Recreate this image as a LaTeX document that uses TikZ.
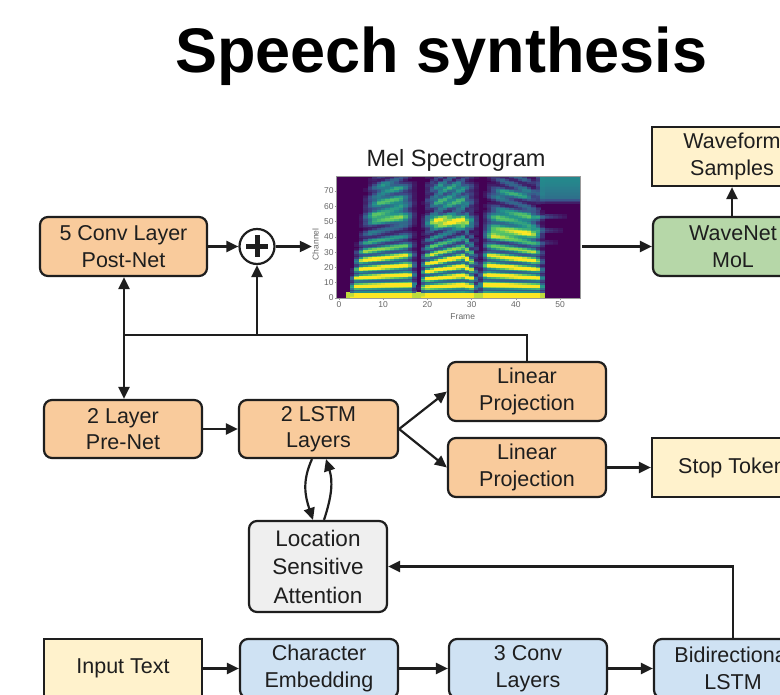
\documentclass[tikz,border=0pt]{standalone}
\usepackage{fontspec}
\setmainfont{Liberation Sans}
\usetikzlibrary{arrows.meta,calc}

\definecolor{orangebox}{HTML}{F9CB9C}
\definecolor{yellowbox}{HTML}{FFF2CC}
\definecolor{greenbox}{HTML}{B6D7A8}
\definecolor{bluebox}{HTML}{CFE2F3}
\definecolor{graybox}{HTML}{EFEFEF}
\definecolor{ink}{HTML}{1E1E1E}
% viridis colour map stops
\definecolor{vir0}{RGB}{68,1,84}
\definecolor{vir1}{RGB}{59,82,139}
\definecolor{vir2}{RGB}{33,145,140}
\definecolor{vir3}{RGB}{94,201,98}
\definecolor{vir4}{RGB}{253,231,37}

% map a value in [0,1] onto the viridis colour 'cell'
\newcommand\setviridis[1]{%
  \pgfmathsetmacro\vv{max(0,min(0.999,#1))}%
  \pgfmathtruncatemacro\seg{floor(\vv*4)}%
  \pgfmathsetmacro\pp{(\vv*4-\seg)*100}%
  \ifcase\seg\relax
    \colorlet{cell}{vir1!\pp!vir0}%
  \or \colorlet{cell}{vir2!\pp!vir1}%
  \or \colorlet{cell}{vir3!\pp!vir2}%
  \else \colorlet{cell}{vir4!\pp!vir3}%
  \fi}

% soft bump of height 1 at #2 with half width #3, evaluated at #1
\newcommand\bumpexpr[3]{max(0,1-(#1-#2)*(#1-#2)/(#3*#3))*max(0,1-(#1-#2)*(#1-#2)/(#3*#3))}

\tikzset{
  blk/.style={draw=ink, line width=2.2pt, rounded corners=8pt, align=center,
    text=ink, font=\fontsize{21.5}{26.5}\selectfont, inner sep=0pt,
    minimum width=158pt, minimum height=58pt},
  sq/.style={blk, rounded corners=0pt},
  link/.style={draw=ink, line width=2.2pt, -{Triangle[length=12pt,width=11pt]}},
  wire/.style={draw=ink, line width=2.2pt},
  ticklbl/.style={font=\fontsize{8.5}{9}\selectfont, text=black!60, inner sep=0pt},
}

\begin{document}
\begin{tikzpicture}[x=1pt,y=-1pt]
\useasboundingbox (0,0) rectangle (780,695);
\clip (0,0) rectangle (780,695);
\fill[white] (0,0) rectangle (780,695);

% title
\node[anchor=base, font=\bfseries\fontsize{63}{63}\selectfont, text=black] (title) at (441.5,73) {Speech synthesis};

% ---------- mel spectrogram ----------
\node[anchor=base, font=\fontsize{23.5}{24}\selectfont, text=ink] (meltitle) at (456,167) {Mel Spectrogram};
\node[minimum width=270pt, minimum height=123pt, inner sep=0pt] (mel) at (447,237.5) {};
\begin{scope}[shift={(339,298)}, x=4.42pt, y=1.53pt]
  \fill[vir0] (-0.5,-0.5) rectangle (54.5,79.5);
  \foreach \fr in {0,...,54}{
    \def\specP{6}\def\specLo{0}\def\specTop{0}%
    \def\specFa{0}\def\specFc{50}%
    \def\specGa{0}\def\specGc{60}%
    \def\specHa{0}\def\specHc{70}%
    \def\specTa{0}\def\specTb{0}\def\specTc{0}%
    \ifnum\fr>1\relax\ifnum\fr<47\relax\def\specLo{0.9}\fi\fi
    % first syllable
    \ifnum\fr>1\relax\ifnum\fr<18\relax
      \pgfmathsetmacro\specP{5.4+0.08*(\fr-2)}%
      \def\specFa{0.5}\def\specFc{53}%
      \def\specGa{0.38}\def\specGc{63}%
      \def\specHa{0.3}\def\specHc{72}%
    \fi\fi
    % second syllable
    \ifnum\fr>17\relax\ifnum\fr<32\relax
      \ifnum\fr<29\relax
        \pgfmathsetmacro\specP{5.0+0.14*(\fr-19)}%
      \else
        \pgfmathsetmacro\specP{6.3-0.4*(\fr-28)}%
      \fi
      \def\specFa{0.75}\def\specFc{50}%
      \def\specGa{0.35}\def\specGc{63}%
      \def\specHa{0.3}\def\specHc{72}%
    \fi\fi
    % third syllable
    \ifnum\fr>31\relax\ifnum\fr<47\relax
      \pgfmathsetmacro\specP{6.6-0.08*(\fr-32)}%
      \def\specFa{0.6}\def\specFc{43}%
      \def\specGa{0.42}\def\specGc{53}%
      \def\specHa{0.3}\def\specHc{68}%
    \fi\fi
    % thin streaks fading out after the last syllable
    \ifnum\fr>44\relax
      \pgfmathsetmacro\specTa{0.32*max(0,1-(\fr-44)/9)}%
      \pgfmathsetmacro\specTb{0.3*max(0,1-(\fr-44)/8)}%
      \pgfmathsetmacro\specTc{0.22*max(0,1-(\fr-44)/7)}%
      \pgfmathsetmacro\specTop{0.4*min(1,(\fr-44.5)/1.5)}%
    \fi
    \pgfmathsetmacro\specW{360/\specP}%
    \foreach \ch in {0,...,79}{
      % syllable envelope, whose edges lean and soften with the channel
      \pgfmathsetmacro\specR{1.2+0.04*\ch}%
      \pgfmathsetmacro\specE{max(0,min(1,0.5+(\fr-2.4-0.075*\ch)/\specR,0.5+(17-0.02*\ch-\fr)/\specR))
        + max(0,min(1,0.5+(\fr-18.4-0.035*\ch)/\specR,0.5+(31-0.02*\ch-\fr)/\specR))
        + max(0,min(1,0.5+(\fr-31.8-0.04*\ch)/\specR,0.5+(46.2-0.028*\ch-\fr)/\specR))}%
      \ifnum\ch<4\relax
        \pgfmathsetmacro\specV{max(\specE,\specLo)}%
      \else
        \pgfmathsetmacro\specV{\specE*(max(0.3,min(1,1.2-(\ch-18)/30))*(0.3+0.85*(0.5+0.5*cos(\specW*(\ch-2))))
          + \specFa*\bumpexpr{\ch}{\specFc}{7}
          + \specGa*\bumpexpr{\ch}{\specGc}{7}
          + \specHa*\bumpexpr{\ch}{\specHc}{5})
          + \specTa*\bumpexpr{\ch}{53}{2.5}
          + \specTb*\bumpexpr{\ch}{44}{2.5}
          + \specTc*\bumpexpr{\ch}{36}{2.5}
          + \specTop*max(0,min(1,(\ch-61)/4))*(0.85+0.3*min(1,(\ch-62)/14))}%
      \fi
      \ifdim\specV pt>0.04pt\relax
        \setviridis{\specV}%
        \fill[cell] (\fr-0.5,\ch-0.5) rectangle (\fr+0.6,\ch+0.62);
      \fi
    }
  }
  \draw[black!40, line width=0.6pt] (-0.5,-0.5) rectangle (54.5,79.5);
  \foreach \t in {0,10,...,70}{
    \draw[black!40, line width=0.5pt] (-0.5,\t) -- (-0.95,\t);
    \node[ticklbl, anchor=east] at (-1.2,\t) {\t};
  }
  \foreach \t in {0,10,...,50}{
    \draw[black!40, line width=0.5pt] (\t,-0.5) -- (\t,-1.6);
    \node[ticklbl, anchor=north] at (\t,-2.2) {\t};
  }
  \node[ticklbl, rotate=90] at (-5.3,35) {Channel};
  \node[ticklbl] at (28,-12) {Frame};
\end{scope}

% ---------- decoder side ----------
\node[blk, fill=orangebox, minimum width=167pt, minimum height=59pt] (postnet) at (123.5,246.5) {5 Conv Layer\\Post-Net};
\node[circle, draw=ink, line width=2.2pt, minimum size=35pt, inner sep=0pt, fill=white] (plus) at (257,246.5) {};
\draw[ink, line width=5pt] ($(plus.center)+(-11,0)$) -- ($(plus.center)+(11,0)$);
\draw[ink, line width=5pt] ($(plus.center)+(0,-11)$) -- ($(plus.center)+(0,11)$);

\node[blk, fill=greenbox, minimum width=160pt, minimum height=59pt] (wavenet) at (733,246.5) {WaveNet\\MoL};
\node[sq, fill=yellowbox, minimum width=160pt, minimum height=59pt] (samples) at (732,156.5) {Waveform\\Samples};

\node[blk, fill=orangebox] (prenet) at (123,429) {2 Layer\\Pre-Net};
\node[blk, fill=orangebox, minimum width=159pt] (lstm) at (318.5,429) {2 LSTM\\Layers};
\node[blk, fill=orangebox, minimum height=59pt] (lp1) at (527,391.5) {Linear\\Projection};
\node[blk, fill=orangebox, minimum height=59pt] (lp2) at (527,467.5) {Linear\\Projection};
\node[sq, fill=yellowbox, minimum width=160pt, minimum height=59pt] (stop) at (732,467.5) {Stop Token};

\node[blk, fill=graybox, minimum width=138pt, minimum height=91pt, font=\fontsize{22.5}{28.5}\selectfont] (att) at (318,566.5) {Location\\Sensitive\\Attention};

% ---------- encoder side ----------
\node[sq, fill=yellowbox, minimum height=59pt] (input) at (123,668.5) {Input Text};
\node[blk, fill=bluebox, minimum height=59pt] (charemb) at (319,668.5) {Character\\Embedding};
\node[blk, fill=bluebox, minimum height=59pt] (conv3) at (528,668.5) {3 Conv\\Layers};
\node[blk, fill=bluebox, minimum height=59pt] (bilstm) at (733,668.5) {Bidirectional\\LSTM};

% ---------- connectors ----------
\draw[link] (postnet.east) -- (plus.west);
\draw[link] (plus.east) -- (plus.east -| mel.west);
\draw[link] (mel.east |- wavenet.west) -- (wavenet.west);
\draw[link] (wavenet.north -| samples.south) -- (samples.south);

\coordinate (bus) at (124,335);
\draw[wire] (lp1.north) |- (bus);
\draw[link] (bus) -- (bus |- postnet.south);
\draw[link] (bus) -- (bus |- prenet.north);
\draw[link] (plus.south |- bus) -- (plus.south);

\draw[link] (prenet.east) -- (lstm.west);
\draw[link] (lstm.east) -- (lp1.west);
\draw[link] (lstm.east) -- (lp2.west);
\draw[link] (lp2.east) -- (stop.west);

\draw[link] ([xshift=-6.5pt]lstm.south) .. controls +(-10,22) and +(-8,-24) .. ([xshift=-5pt]att.north);
\draw[link] ([xshift=6pt]att.north) .. controls +(8,-24) and +(7,22) .. ([xshift=7.5pt]lstm.south);

\draw[link] (bilstm.north) |- (att.east);
\draw[link] (input.east) -- (charemb.west);
\draw[link] (charemb.east) -- (conv3.west);
\draw[link] (conv3.east) -- (bilstm.west);
\end{tikzpicture}
\end{document}
